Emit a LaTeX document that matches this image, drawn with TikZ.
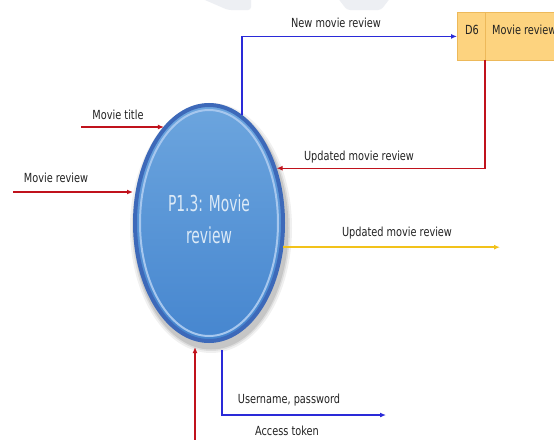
\documentclass[tikz,border=0pt]{standalone}
\usepackage{fontspec}
\setmainfont{DejaVu Sans}
\newfontfamily\lblfont[FakeStretch=0.78]{DejaVu Sans}
\newfontfamily\pfont[FakeStretch=0.63]{DejaVu Sans}
\usetikzlibrary{shapes.geometric,arrows.meta,calc}
\definecolor{dred}{HTML}{C0121C}
\definecolor{dblue}{HTML}{2A2AD8}
\definecolor{gold}{HTML}{F2C21A}
\definecolor{pborder}{HTML}{3D69B9}
\definecolor{pring}{HTML}{A6C7EE}
\definecolor{ptop}{HTML}{6CA5DE}
\definecolor{pbot}{HTML}{4686CF}
\definecolor{ptxt}{HTML}{DCEAF7}
\definecolor{storefill}{HTML}{FDD37F}
\definecolor{storeline}{HTML}{EDB95A}
\definecolor{wm}{HTML}{EDEFF3}
\definecolor{lbltxt}{HTML}{222222}
\tikzset{
  lbl/.style={font=\lblfont\fontsize{12.5}{14}\selectfont, text=lbltxt, inner sep=0pt, text height=9pt, text depth=2.5pt},
  tip/.style={-{Latex[length=6pt,width=5pt]}},
  redflow/.style={tip, draw=dred, line width=1.2pt},
  blueflow/.style={tip, draw=dblue, line width=1.2pt},
  goldflow/.style={tip, draw=gold, line width=2.2pt},
  procshape/.style={ellipse, minimum width=148pt, minimum height=236pt, inner sep=0pt, outer sep=2pt,
    draw=pborder, line width=4pt, top color=ptop, bottom color=pbot},
  procring/.style={ellipse, minimum width=138pt, minimum height=226pt, inner sep=0pt, draw=pring, line width=2pt},
  ptext/.style={font=\pfont\fontsize{22}{32}\selectfont, text=ptxt, align=center, inner sep=0pt},
  storebox/.style={draw=storeline, fill=storefill, line width=0.8pt, minimum width=143pt, minimum height=48pt, inner sep=0pt, anchor=north west}
}
\begin{document}
\begin{tikzpicture}[x=1pt,y=-1pt]
\useasboundingbox (0,0) rectangle (554,439);
\clip (0,0) rectangle (554,439);
\fill[white] (0,0) rectangle (554,439);
% faint watermark
\fill[wm, rounded corners=3pt] (198,-3) -- (251,-3) -- (251,10) -- (228,10) -- cycle;
\fill[wm, rounded corners=3pt] (337,-3) -- (391,-3) -- (381,10) -- (347,10) -- cycle;

% shadow of process
\foreach \s/\o in {10/0.06,6/0.08,3/0.10}{
  \fill[black, opacity=\o] (211,228) ellipse ({76+\s/2} and {120+\s/2});
}
% process
\node[procshape] (p) at (209,223) {};
\node[procring] (pr) at (p.center) {};
\node[ptext] (pt) at (209,219) {P1.3: Movie\\review};

% data store
\node[storebox] (d6) at (457,12) {};
\coordinate (d6split) at (485,60);
\draw[storeline, line width=0.8pt] (485,12) -- (d6split);
\node[lbl, anchor=center] (d6id) at (472,31) {D6};
\node[lbl, anchor=west] (d6name) at (492,31) {Movie review};

% coordinates for free ends
\coordinate (mtstart) at (81,127);
\coordinate (mrstart) at (13,192);
\coordinate (yend) at (500,247);
\coordinate (rbstart) at (195,441);
\coordinate (ubend) at (386,415);

% flows
\draw[blueflow] (p.73) |- (d6.west);
\draw[redflow] (d6split) |- (p.39);
\draw[goldflow] (p.-18) -- (p.-18 -| yend);
\draw[redflow] (mtstart) -- (mtstart -| p.115);
\draw[redflow] (mrstart) -- (mrstart -| p.west);
\draw[redflow] (rbstart) -- ($(p.south)+(-14,4)$);
\draw[blueflow] ($(p.south)+(13,7)$) |- (ubend);

% labels
\node[lbl] (l1) at (336,24) {New movie review};
\node[lbl] (l2) at (359,157) {Updated movie review};
\node[lbl] (l3) at (397,233) {Updated movie review};
\node[lbl] (l4) at (118,116) {Movie title};
\node[lbl] (l5) at (56,179) {Movie review};
\node[lbl] (l6) at (289,400) {Username, password};
\node[lbl] (l7) at (287,432) {Access token};
\end{tikzpicture}
\end{document}
